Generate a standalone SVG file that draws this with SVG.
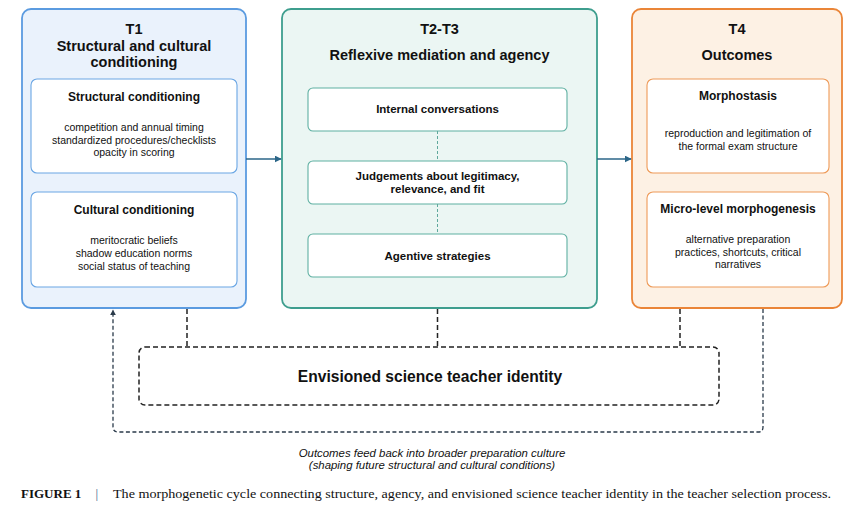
<svg xmlns="http://www.w3.org/2000/svg" width="865" height="513" viewBox="0 0 865 513">
<defs>
<style>
.t{font-family:"Liberation Sans",Arial,sans-serif;fill:#111;text-anchor:middle}
.h{font-size:14.5px;font-weight:bold}
.s{font-size:12px;font-weight:bold}
.b{font-size:10.5px}
.m{font-size:11.5px;font-weight:bold}
.blue{fill:#eaf2fc;stroke:#5b9be0;stroke-width:1.8}
.teal{fill:#ebf6f3;stroke:#3e9e8e;stroke-width:1.8}
.orng{fill:#fdf1e4;stroke:#ea8538;stroke-width:1.8}
.ib{fill:#fff;stroke:#6aa6e4;stroke-width:1.1}
.it{fill:#fff;stroke:#5fb0a2;stroke-width:1.1}
.io{fill:#fff;stroke:#ee9a58;stroke-width:1.1}
.flow{stroke:#2b6688;stroke-width:1.6;fill:none}
.dash{stroke:#222;stroke-width:1.5;fill:none;stroke-dasharray:5 3}
.loop{stroke:#2a3a4a;stroke-width:1.3;fill:none;stroke-dasharray:4 2.5}
.tdash{stroke:#5fa89c;stroke-width:1;fill:none;stroke-dasharray:3 2}
.note{font-size:11.4px;font-style:italic}
</style>
<marker id="ah" viewBox="0 0 10 10" refX="9" refY="5" markerWidth="7" markerHeight="7" markerUnits="userSpaceOnUse" orient="auto">
<path d="M0,0 L10,5 L0,10 z" fill="#2b6688"/>
</marker>
<marker id="ah2" viewBox="0 0 10 10" refX="9" refY="5" markerWidth="6" markerHeight="6" markerUnits="userSpaceOnUse" orient="auto">
<path d="M0,0 L10,5 L0,10 z" fill="#2a3a4a"/>
</marker>
</defs>

<g id="T1">
<rect class="blue" x="22" y="9" width="224" height="299" rx="9"/>
<text class="t h" x="134" y="34">T1</text>
<text class="t h" x="134" y="51">Structural and cultural</text>
<text class="t h" x="134" y="67">conditioning</text>
<g id="structural">
<rect class="ib" x="31" y="79" width="206" height="94" rx="6"/>
<text class="t s" x="134" y="101">Structural conditioning</text>
<text class="t b" x="134" y="131">competition and annual timing</text>
<text class="t b" x="134" y="143.5">standardized procedures/checklists</text>
<text class="t b" x="134" y="156">opacity in scoring</text>
</g>
<g id="cultural">
<rect class="ib" x="31" y="192" width="206" height="95" rx="6"/>
<text class="t s" x="134" y="214">Cultural conditioning</text>
<text class="t b" x="134" y="244">meritocratic beliefs</text>
<text class="t b" x="134" y="257">shadow education norms</text>
<text class="t b" x="134" y="270">social status of teaching</text>
</g>
</g>

<g id="T2T3">
<rect class="teal" x="282" y="9" width="315" height="299" rx="9"/>
<text class="t h" x="439.5" y="34">T2-T3</text>
<text class="t h" x="439.5" y="60">Reflexive mediation and agency</text>
<g id="internal">
<rect class="it" x="308" y="88" width="259" height="43" rx="5"/>
<text class="t m" x="437.5" y="113">Internal conversations</text>
</g>
<g id="judgements">
<rect class="it" x="308" y="161" width="259" height="43" rx="5"/>
<text class="t m" x="437.5" y="180">Judgements about legitimacy,</text>
<text class="t m" x="437.5" y="193">relevance, and fit</text>
</g>
<g id="agentive">
<rect class="it" x="308" y="234" width="259" height="43" rx="5"/>
<text class="t m" x="437.5" y="260">Agentive strategies</text>
</g>
</g>

<g id="T4">
<rect class="orng" x="632" y="9" width="210" height="299" rx="9"/>
<text class="t h" x="737" y="34">T4</text>
<text class="t h" x="737" y="60">Outcomes</text>
<g id="morphostasis">
<rect class="io" x="647" y="79" width="182" height="94" rx="6"/>
<text class="t s" x="738" y="100">Morphostasis</text>
<text class="t b" x="738" y="137">reproduction and legitimation of</text>
<text class="t b" x="738" y="150">the formal exam structure</text>
</g>
<g id="morphogenesis">
<rect class="io" x="647" y="192" width="182" height="95" rx="6"/>
<text class="t s" x="738" y="213">Micro-level morphogenesis</text>
<text class="t b" x="738" y="243">alternative preparation</text>
<text class="t b" x="738" y="255.5">practices, shortcuts, critical</text>
<text class="t b" x="738" y="268">narratives</text>
</g>
</g>

<g id="identity">
<rect x="139" y="347" width="580" height="58" rx="6" fill="#fff" stroke="#222" stroke-width="1.5" stroke-dasharray="5 3"/>
<text class="t" x="430" y="381.5" style="font-size:15.6px;font-weight:bold">Envisioned science teacher identity</text>
</g>

<g id="connectors">
<line class="flow" x1="246" y1="159" x2="281" y2="159" marker-end="url(#ah)"/>
<line class="flow" x1="597" y1="159" x2="631" y2="159" marker-end="url(#ah)"/>
<line class="tdash" x1="437.5" y1="131" x2="437.5" y2="161"/>
<line class="tdash" x1="437.5" y1="204" x2="437.5" y2="234"/>
<path class="dash" d="M187,309 V347"/>
<path class="dash" d="M437.5,309 V347"/>
<path class="dash" d="M680,309 V347"/>
<path class="loop" d="M763,309 V427 Q763,432 758,432 H118 Q113,432 113,427 V310" marker-end="url(#ah2)"/>
</g>

<g id="note">
<text class="t note" x="432" y="457">Outcomes feed back into broader preparation culture</text>
<text class="t note" x="432" y="469">(shaping future structural and cultural conditions)</text>
</g>

<g id="caption" style="font-family:'Liberation Serif','Times New Roman',serif;font-size:13px;fill:#111">
<text x="21" y="498" style="font-weight:bold">FIGURE 1</text>
<text x="95.5" y="498" style="fill:#3b5b8a">|</text>
<text x="113" y="498" textLength="718" lengthAdjust="spacingAndGlyphs">The morphogenetic cycle connecting structure, agency, and envisioned science teacher identity in the teacher selection process.</text>
</g>
</svg>
